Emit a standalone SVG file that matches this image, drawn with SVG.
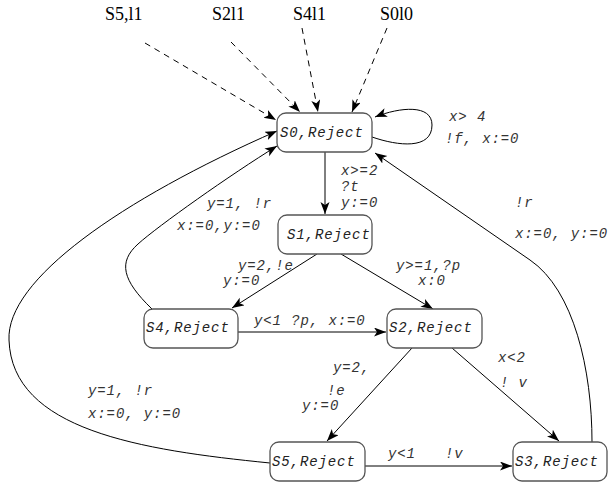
<svg xmlns="http://www.w3.org/2000/svg" width="608" height="483" viewBox="0 0 608 483">
<style>
.box{fill:#fff;stroke:#555;stroke-width:1.3}
.nl{font-family:"Liberation Mono",monospace;font-style:italic;font-size:14px;letter-spacing:0.9px;fill:#222}
.el{font-family:"Liberation Mono",monospace;font-style:italic;font-size:14px;letter-spacing:0.9px;fill:#333}
.tl{font-family:"Liberation Serif",serif;font-size:18px;fill:#000}
.e{fill:none;stroke:#000;stroke-width:1;marker-end:url(#ah)}
.d{stroke-dasharray:6,5}
</style>
<defs>
<marker id="ah" markerUnits="userSpaceOnUse" markerWidth="14" markerHeight="10" refX="12" refY="4.5" orient="auto">
<path d="M0,0 L12,4.5 L0,9 L3,4.5 z" fill="#000"/>
</marker>
</defs>
<rect width="608" height="483" fill="#fff"/>
<g id="connectors">
<path class="e d" d="M145,43 L276,120"/>
<path class="e d" d="M231,42 L300,112"/>
<path class="e d" d="M302,28 L318,112"/>
<path class="e d" d="M387,28 L352,112"/>
<path class="e" d="M372,137 C398,146 432,150 432,125 C432,104 400,107 375,117"/>
<path class="e" d="M325,152 L325,214"/>
<path class="e" d="M592,442 C592,370 574,290 530,260 L375,153"/>
<path class="e" d="M152,309 C122,280 118,262 138,244 S230,175 277,146"/>
<path class="e" d="M270,463 C140,450 12,430 9,340 C6,280 120,200 277,131"/>
<path class="e" d="M317,254 L232,308"/>
<path class="e" d="M341,254 L433,309"/>
<path class="e" d="M238,332 L386,332"/>
<path class="e" d="M412,348 L327,441"/>
<path class="e" d="M452,348 L559,441"/>
<path class="e" d="M365,466 L512,466"/>
</g>
<g id="labels">
<text class="tl" x="105" y="20">S5,l1</text>
<text class="tl" x="212" y="20">S2l1</text>
<text class="tl" x="293" y="20">S4l1</text>
<text class="tl" x="380" y="20">S0l0</text>
<text class="el" x="449" y="121">x&gt; 4</text>
<text class="el" x="445" y="143">!f, x:=0</text>
<text class="el" x="341" y="175">x&gt;=2</text>
<text class="el" x="341" y="191">?t</text>
<text class="el" x="341" y="207">y:=0</text>
<text class="el" x="515" y="207">!r</text>
<text class="el" x="515" y="238">x:=0, y:=0</text>
<text class="el" x="207" y="208">y=1, !r</text>
<text class="el" x="177" y="230">x:=0,y:=0</text>
<text class="el" x="238" y="270">y=2,!e</text>
<text class="el" x="223" y="285">y:=0</text>
<text class="el" x="396" y="270">y&gt;=1,?p</text>
<text class="el" x="418" y="285">x:0</text>
<text class="el" x="254" y="325">y&lt;1 ?p, x:=0</text>
<text class="el" x="333" y="372">y=2,</text>
<text class="el" x="327" y="395">!e</text>
<text class="el" x="302" y="410">y:=0</text>
<text class="el" x="498" y="362">x&lt;2</text>
<text class="el" x="500" y="387">! v</text>
<text class="el" x="88" y="395">y=1, !r</text>
<text class="el" x="88" y="418">x:=0, y:=0</text>
<text class="el" x="388" y="458">y&lt;1</text>
<text class="el" x="445" y="458">!v</text>
</g>
<g id="S0"><rect class="box" x="277" y="113" width="95" height="39" rx="9"/><text class="nl" x="280" y="137">S0,Reject</text></g>
<g id="S1"><rect class="box" x="278" y="215" width="94" height="39" rx="9"/><text class="nl" x="287" y="239">S1,Reject</text></g>
<g id="S4"><rect class="box" x="144" y="309" width="94" height="39" rx="9"/><text class="nl" x="146" y="332">S4,Reject</text></g>
<g id="S2"><rect class="box" x="387" y="309" width="95" height="39" rx="9"/><text class="nl" x="389" y="332">S2,Reject</text></g>
<g id="S5"><rect class="box" x="270" y="442" width="95" height="39" rx="9"/><text class="nl" x="272" y="466">S5,Reject</text></g>
<g id="S3"><rect class="box" x="513" y="442" width="94" height="39" rx="9"/><text class="nl" x="515" y="466">S3,Reject</text></g>
</svg>
